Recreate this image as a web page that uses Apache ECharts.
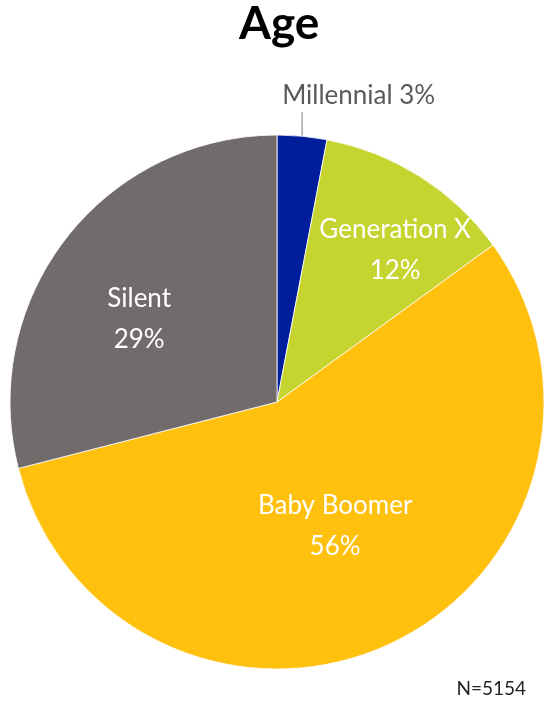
<!DOCTYPE html>
<html>
<head>
<meta charset="utf-8">
<script src="https://cdn.jsdelivr.net/npm/echarts@6/dist/echarts.min.js"></script>
<style>
  html, body { margin: 0; padding: 0; background: #ffffff; }
  #chart { width: 544px; height: 704px; }
</style>
</head>
<body>
<div id="chart"></div>
<script>
// Generational breakdown of respondents (percent)
const categories = ['Millennial', 'Generation X', 'Baby Boomer', 'Silent'];
const shares = [3, 12, 56, 29];
const sliceColors = ['#001E9C', '#C6D430', '#FFC00E', '#716C6B'];
const sampleNote = 'N=5154';

// Per-slice nudges for the inside labels
const labelOffsets = [[0, 0], [45, -37], [0, 1], [-30, 1]];

const FONT = 'Lato, "Open Sans", sans-serif';

const data = categories.map((name, i) => {
  const item = {
    name,
    value: shares[i],
    itemStyle: { color: sliceColors[i] }
  };
  if (i === 0) {
    item.label = {
      show: true,
      position: 'outside',
      formatter: '{b} {c}%',
      color: '#595959',
      fontSize: 26,
      fontFamily: FONT
    };
    item.labelLine = { show: true, length: 25, length2: 0, lineStyle: { color: '#A6A6A6', width: 1.5 } };
  } else {
    item.label = { offset: labelOffsets[i] };
  }
  return item;
});

const chart = echarts.init(document.getElementById('chart'), null, { renderer: 'canvas' });
chart.setOption({
  backgroundColor: '#ffffff',
  animation: false,
  title: {
    text: 'Age',
    left: 234,
    top: -4,
    textStyle: { fontFamily: FONT, fontSize: 46, fontWeight: 'bold', color: '#000000' }
  },
  graphic: [{
    type: 'text',
    right: 18,
    bottom: 6,
    style: { text: sampleNote, fontFamily: FONT, fontSize: 19, fill: '#222222' }
  }],
  series: [{
    type: 'pie',
    center: [277, 402],
    radius: 267,
    startAngle: 90,
    clockwise: true,
    avoidLabelOverlap: false,
    itemStyle: { borderColor: '#ffffff', borderWidth: 0.8 },
    label: {
      show: true,
      position: 'inside',
      formatter: '{b}\n{c}%',
      color: '#ffffff',
      fontSize: 26,
      lineHeight: 41,
      fontFamily: FONT
    },
    labelLayout: function (params) {
      if (params.dataIndex !== 0 || !params.labelLinePoints) return {};
      const p0 = params.labelLinePoints[0];
      const top = [p0[0], p0[1] - 24];
      return {
        x: p0[0] - 20,
        y: top[1] + 4,
        align: 'left',
        verticalAlign: 'bottom',
        labelLinePoints: [p0, top]
      };
    },
    data
  }]
});
</script>
</body>
</html>
